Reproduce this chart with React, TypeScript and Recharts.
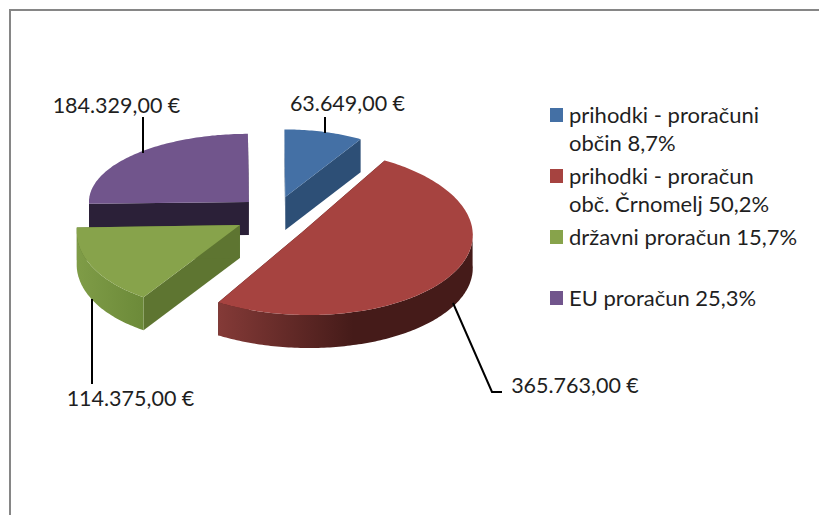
import { PieChart, Pie, Legend } from 'recharts';

const categories = [
  'prihodki - proračuni\nobčin 8,7%',
  'prihodki - proračun\nobč. Črnomelj 50,2%',
  'državni proračun 15,7%',
  'EU proračun 25,3%',
];
const amounts = [63649, 365763, 114375, 184329];
const topColors = ['#4470a5', '#a64340', '#87a34b', '#71558c'];
const sideColors = ['#2d4f76', '#431a18', '#5e7531', '#2b2038'];
const rimLightColors = ['#4470a5', '#843a37', '#7f9c47', '#71558c'];
const rimDarkColors = ['#2d4f76', '#451b19', '#6c8a39', '#2b2038'];

// leader lines and label anchors, in legend order
const leaders = [
  { line: '325,117 325,133', x: 347.5, y: 111 },
  { line: '453,303 492,392 502,392', x: 575, y: 393 },
  { line: '92,299 92,384', x: 130.5, y: 406 },
  { line: '143,117 143,153', x: 116.5, y: 113 },
];

// small per wedge corrections for the 3D perspective of the original
const wedgeFit = [
  { dx: 2.5, dy: 0.5, drx: -4, dry: 2, shear: 0 },
  { dx: -2, dy: 2, drx: 3, dry: 3, shear: 0.08 },
  { dx: -1, dy: -4, drx: -4, dry: 5, shear: -0.14 },
  { dx: 2.5, dy: -0.5, drx: 7, dry: 0, shear: 0 },
];

// EU first so the green wedge paints over its dark side
const drawOrder = [3, 0, 1, 2];
const pieData = drawOrder.map((i) => ({ name: categories[i], value: amounts[i], index: i, fill: topColors[i] }));

const TILT = 0.466;
const EXPLODE = 0.23;
const DEPTH = 33;
const RAD = Math.PI / 180;

const euro = (v: number) =>
  v.toString().replace(/\B(?=(\d{3})+$)/g, '.') + ',00 €';

function Wedge3D(props: any) {
  const { cx, cy, outerRadius, startAngle, endAngle, payload } = props;
  const i = payload.index;
  const fit = wedgeFit[i];
  // clockwise from 12 o'clock
  const from = 90 - Math.max(startAngle, endAngle);
  const to = 90 - Math.min(startAngle, endAngle);
  const start = Math.min(from, to);
  const end = Math.max(from, to);
  const mid = ((start + end) / 2) * RAD;
  const near = Math.cos(mid);
  const rx = outerRadius - 11.6 * near + fit.drx;
  const ry = outerRadius * TILT - 10 * near + fit.dry;
  const ax = cx + outerRadius * EXPLODE * Math.sin(mid) + fit.dx;
  const ay = cy - outerRadius * EXPLODE * TILT * 1.3 * near + fit.dy;

  const pt = (deg: number, down = 0) => {
    const t = deg * RAD;
    const off = -ry * Math.cos(t);
    return [ax + rx * Math.sin(t) + fit.shear * off, ay + off + down];
  };
  const arc = (a: number, b: number, down = 0) => {
    const pts = [];
    const n = Math.max(2, Math.ceil(Math.abs(b - a)));
    for (let k = 0; k <= n; k++) pts.push(pt(a + ((b - a) * k) / n, down));
    return pts;
  };
  const path = (pts: number[][]) => 'M' + pts.map((p) => p.map((v) => v.toFixed(1)).join(',')).join('L') + 'Z';

  const s = pt(start);
  const e = pt(end);
  const face = (p: number[]) =>
    path([[ax, ay], p, [p[0], p[1] + DEPTH], [ax, ay + DEPTH]]);

  // only the front of the rim is visible (90..270 and its wraps)
  const norm = (d: number) => ((d % 360) + 360) % 360;
  const a0 = norm(start);
  const a1 = a0 + (end - start);
  const rimFrom = Math.max(a0, 90);
  const rimTo = Math.min(a1, 270);
  const hasRim = rimTo > rimFrom;
  const gradId = `rim-${i}`;
  const rim = hasRim ? [...arc(rimFrom, rimTo), ...arc(rimTo, rimFrom, DEPTH)] : null;
  const rimL = hasRim ? Math.min(...rim!.map((p) => p[0])) : 0;
  const rimR = hasRim ? Math.max(...rim!.map((p) => p[0])) : 0;

  return (
    <g>
      <defs>
        <linearGradient id={gradId} gradientUnits="userSpaceOnUse" x1={rimL} x2={i === 1 ? rimL + 135 : rimR} y1="0" y2="0">
          <stop offset="0" stopColor={rimLightColors[i]} />
          <stop offset="1" stopColor={rimDarkColors[i]} />
        </linearGradient>
      </defs>
      <path d={face(s)} fill={sideColors[i]} />
      <path d={face(e)} fill={sideColors[i]} />
      {rim && <path d={path(rim)} fill={`url(#${gradId})`} />}
      <path d={path([[ax, ay], ...arc(a0, a1)])} fill={topColors[i]} />
    </g>
  );
}

function LeaderLabel(props: any) {
  const i = props.payload.index;
  const l = leaders[i];
  return (
    <g>
      <polyline points={l.line} fill="none" stroke="#000" strokeWidth={2} />
      <text x={l.x} y={l.y} textAnchor="middle" fontFamily="Lato" fontSize={21.5} fill="#1f1f1f">
        {euro(props.value)}
      </text>
    </g>
  );
}

function LegendBox() {
  return (
    <div style={{ fontFamily: 'Lato', fontSize: 22, color: '#1f1f1f', lineHeight: '28px' }}>
      {categories.map((c, i) => (
        <div key={c} style={{ height: 61, display: 'flex' }}>
          <span style={{ width: 13, height: 14, background: topColors[i], marginTop: 7, marginRight: 6, flex: 'none' }} />
          <span style={{ whiteSpace: 'pre-line' }}>{c}</span>
        </div>
      ))}
    </div>
  );
}

export default function App() {
  return (
    <div style={{ position: 'absolute', left: 0, top: 0, width: 819, height: 515, background: '#fff', overflow: 'hidden' }}>
      <div style={{ position: 'absolute', left: 9, top: 9, width: 810, height: 506, borderTop: '2px solid #868686', borderLeft: '2px solid #868686', boxSizing: 'border-box' }} />
      <PieChart width={819} height={515} margin={{ top: 0, right: 0, bottom: 0, left: 0 }} style={{ position: 'absolute', left: 0, top: 0 }}>
        <Pie
          data={pieData}
          dataKey="value"
          nameKey="name"
          cx={273}
          cy={218}
          outerRadius={161}
          startAngle={-178.5}
          endAngle={-538.5}
          stroke="none"
          isAnimationActive={false}
          shape={Wedge3D}
          label={LeaderLabel}
          labelLine={false}
        />
        <Legend
          content={LegendBox}
          layout="vertical"
          wrapperStyle={{ position: 'absolute', left: 550, top: 101, width: 265 }}
        />
      </PieChart>
    </div>
  );
}
